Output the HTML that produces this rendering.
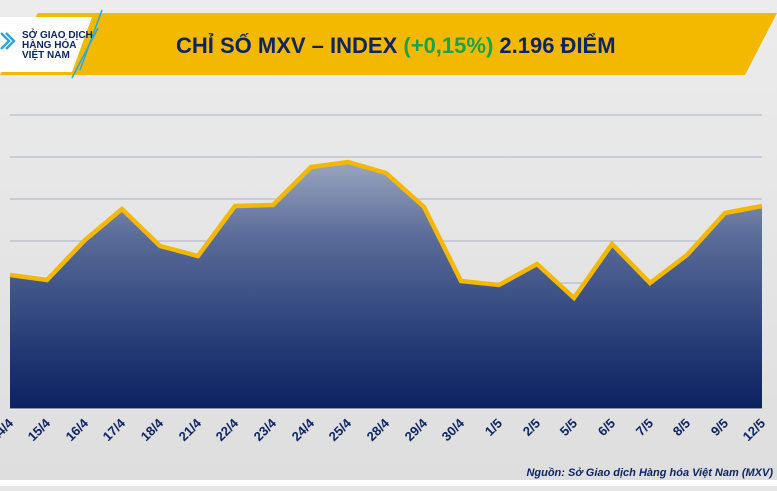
<!DOCTYPE html><html><head><meta charset="utf-8"><style>
body{margin:0;width:777px;height:486px;overflow:hidden;background:#e6e6e6;font-family:"Liberation Sans",sans-serif}
</style></head><body>
<svg width="777" height="486" xmlns="http://www.w3.org/2000/svg">
<defs>
<linearGradient id="g" x1="0" y1="0" x2="0" y2="1"><stop offset="0" stop-color="#9aa5bf"/><stop offset="0.3" stop-color="#5a6c98"/><stop offset="0.75" stop-color="#233a75"/><stop offset="1" stop-color="#0b2260"/></linearGradient>
<linearGradient id="bg" x1="0" y1="0" x2="0" y2="1"><stop offset="0" stop-color="#ececec"/><stop offset="1" stop-color="#dedede"/></linearGradient>
</defs>
<rect width="777" height="486" fill="url(#bg)"/>
<rect x="0" y="480" width="777" height="6" fill="#fff"/>
<g stroke="#b8bccb" stroke-width="1.3">
<line x1="10" y1="115" x2="762" y2="115"/><line x1="10" y1="157" x2="762" y2="157"/><line x1="10" y1="199" x2="762" y2="199"/><line x1="10" y1="241" x2="762" y2="241"/><line x1="10" y1="283" x2="762" y2="283"/><line x1="10" y1="325" x2="762" y2="325"/><line x1="10" y1="367" x2="762" y2="367"/>
</g>
<polygon fill="url(#g)" points="10,409 10,275 47,280 85,240 122,209 160,246 198,256 235,206 273,205 311,167 348,162 386,173 424,207 461,281 499,285 537,264 574,298 612,244 650,283 687,255 725,213 762,206 762,409"/>
<polyline fill="none" stroke="#f5b800" stroke-width="4.5" stroke-linejoin="miter" points="10,275 47,280 85,240 122,209 160,246 198,256 235,206 273,205 311,167 348,162 386,173 424,207 461,281 499,285 537,264 574,298 612,244 650,283 687,255 725,213 762,206"/>
<line x1="10" y1="409" x2="762" y2="409" stroke="#fff" stroke-width="1"/>
<polygon points="38,13 777,13 745,75 0,75" fill="#f2b900"/>
<polygon points="0,17 92,17 72,72 0,72" fill="#fff"/>
<line x1="102" y1="10" x2="80" y2="70" stroke="#29a8e0" stroke-width="1.5"/>
<line x1="98" y1="28" x2="72" y2="78" stroke="#29a8e0" stroke-width="1.5"/>
<path d="M1,33 L9,41 L1,49 M6,33 L14,41 L6,49" fill="none" stroke="#29a8e0" stroke-width="2.5"/>
<text x="22" y="38" font-size="10" fill="#0d2562" font-weight="bold">SỞ GIAO DỊCH</text>
<text x="22" y="48" font-size="10" fill="#0d2562" font-weight="bold">HÀNG HÓA</text>
<text x="22" y="58" font-size="10" fill="#0d2562" font-weight="bold">VIỆT NAM</text>
<text x="176" y="53" font-size="22" font-weight="bold" fill="#0d2562">CHỈ SỐ MXV – INDEX <tspan fill="#1aa34a">(+0,15%)</tspan> 2.196 ĐIỂM</text>
<g font-size="13" font-weight="bold" fill="#0d2562" text-anchor="end">
<text transform="translate(14,424) rotate(-45)">14/4</text>
<text transform="translate(51,424) rotate(-45)">15/4</text>
<text transform="translate(89,424) rotate(-45)">16/4</text>
<text transform="translate(126,424) rotate(-45)">17/4</text>
<text transform="translate(164,424) rotate(-45)">18/4</text>
<text transform="translate(202,424) rotate(-45)">21/4</text>
<text transform="translate(239,424) rotate(-45)">22/4</text>
<text transform="translate(277,424) rotate(-45)">23/4</text>
<text transform="translate(315,424) rotate(-45)">24/4</text>
<text transform="translate(352,424) rotate(-45)">25/4</text>
<text transform="translate(390,424) rotate(-45)">28/4</text>
<text transform="translate(428,424) rotate(-45)">29/4</text>
<text transform="translate(465,424) rotate(-45)">30/4</text>
<text transform="translate(503,424) rotate(-45)">1/5</text>
<text transform="translate(541,424) rotate(-45)">2/5</text>
<text transform="translate(578,424) rotate(-45)">5/5</text>
<text transform="translate(616,424) rotate(-45)">6/5</text>
<text transform="translate(654,424) rotate(-45)">7/5</text>
<text transform="translate(691,424) rotate(-45)">8/5</text>
<text transform="translate(729,424) rotate(-45)">9/5</text>
<text transform="translate(766,424) rotate(-45)">12/5</text>
</g>
<text x="773" y="476" font-size="11" font-style="italic" font-weight="bold" fill="#0d2562" text-anchor="end">Nguồn: Sở Giao dịch Hàng hóa Việt Nam (MXV)</text>
</svg>
</body></html>
